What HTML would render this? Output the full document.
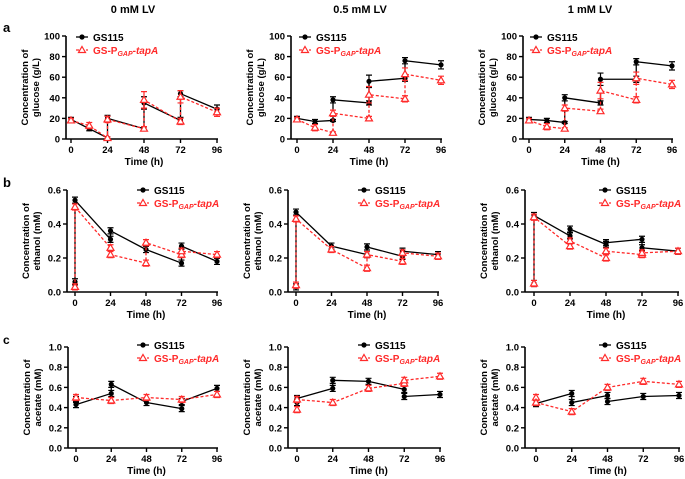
<!DOCTYPE html>
<html><head><meta charset="utf-8"><style>
html,body{margin:0;padding:0;background:#fff;}
svg{display:block;font-family:"Liberation Sans",Arial,sans-serif;font-weight:bold;}
</style></head><body>
<svg id="fig" width="685" height="479" viewBox="0 0 685 479" xmlns="http://www.w3.org/2000/svg">
<text x="133" y="13" font-size="11" text-anchor="middle">0 mM LV</text>
<text x="360" y="13" font-size="11" text-anchor="middle">0.5 mM LV</text>
<text x="590" y="13" font-size="11" text-anchor="middle">1 mM LV</text>
<text x="3" y="32" font-size="13">a</text>
<text x="3" y="187" font-size="13">b</text>
<text x="3" y="344" font-size="12">c</text>
</svg>
<script>
// ---- data ----
const timeTicks=[0,24,48,72,96];
const glucoseTicks=[0,20,40,60,80,100];
const ethanolTicks=[0.0,0.2,0.4,0.6];
const acetateTicks=[0.0,0.2,0.4,0.6,0.8,1.0];
const gluT=[0,12,24,24,48,48,72,72,96];
const glu0Black=[19,10,1,20,10,35,18,44,29];
const glu0Red=[18,13,1,19,10,38,17,41,26];
const glu05Black=[20,17,18,38,35,56,59,76,72];
const glu05Red=[19,11,6,25,20,43,39,63,57];
const glu1Black=[19,18,16,40,35,58,58,75,71];
const glu1Red=[18,12,10,30,27,47,38,59,53];
const gluErrBlack=[2,2,1,3,2,6,3,3,4];
const gluErrRed=[2,3,1,3,2,8,3,6,4];
const eth0BlackT=[0,0,24,24,48,72,72,96];
const eth0Black=[0.06,0.54,0.31,0.36,0.25,0.17,0.27,0.18];
const eth0RedT=[0,0,24,24,48,48,72,72,96];
const eth0Red=[0.03,0.50,0.26,0.22,0.17,0.29,0.22,0.24,0.22];
const eth05BlackT=[0,0,24,48,48,72,72,96];
const eth05Black=[0.03,0.47,0.27,0.22,0.265,0.21,0.24,0.22];
const eth05RedT=[0,0,24,48,48,72,72,96];
const eth05Red=[0.04,0.43,0.25,0.14,0.22,0.18,0.23,0.21];
const eth1BlackT=[0,0,24,24,48,48,72,72,96];
const eth1Black=[0.05,0.45,0.33,0.37,0.28,0.29,0.31,0.26,0.24];
const eth1RedT=[0,0,24,24,48,48,72,72,96];
const eth1Red=[0.05,0.44,0.27,0.30,0.20,0.24,0.22,0.23,0.24];
const ace0BlackT=[0,0,24,24,48,72,72,96];
const ace0Black=[0.48,0.43,0.54,0.63,0.45,0.39,0.46,0.59];
const ace0RedT=[0,24,48,72,96];
const ace0Red=[0.50,0.47,0.50,0.48,0.53];
const ace05BlackT=[0,0,24,24,48,72,72,96];
const ace05Black=[0.45,0.49,0.59,0.67,0.66,0.58,0.51,0.53];
const ace05RedT=[0,0,24,48,72,72,96];
const ace05Red=[0.38,0.48,0.45,0.59,0.64,0.67,0.71];
const ace1BlackT=[0,24,24,48,48,72,96];
const ace1Black=[0.44,0.54,0.45,0.52,0.46,0.51,0.52];
const ace1RedT=[0,0,24,48,72,96];
const ace1Red=[0.50,0.45,0.36,0.60,0.66,0.63];

const NS='http://www.w3.org/2000/svg';
const svg=document.getElementById('fig');
function mk(tag,attrs,parent){const e=document.createElementNS(NS,tag);for(const k in attrs)e.setAttribute(k,attrs[k]);(parent||svg).appendChild(e);return e;}

function panel(id,cfg){
  const g=mk('g',{});
  
  
  const xs=t=>cfg.x0+(t-0)/96*(cfg.x96-cfg.x0);
  const ys=v=>cfg.bot-(v-cfg.ymin)/(cfg.ymax-cfg.ymin)*(cfg.bot-cfg.top);
  // axes
  const ya=mk('line',{x1:cfg.ax,y1:cfg.top,x2:cfg.ax,y2:cfg.bot,stroke:'#000','stroke-width':1.6},g);
  
  
  const xa=mk('line',{x1:cfg.ax,y1:cfg.bot,x2:cfg.x96+1,y2:cfg.bot,stroke:'#000','stroke-width':1.6},g);
  
  
  cfg.yticks.forEach(v=>{
    const y=ys(v);
    mk('line',{x1:cfg.ax-4,y1:y,x2:cfg.ax,y2:y,stroke:'#000','stroke-width':1.4},g);
    const t=mk('text',{x:cfg.ax-6,y:y+3.5,'font-size':9.5,'text-anchor':'end'},g);
    t.textContent=cfg.fmt(v);
    
    
  });
  timeTicks.forEach(v=>{
    const x=xs(v);
    mk('line',{x1:x,y1:cfg.bot,x2:x,y2:cfg.bot+4,stroke:'#000','stroke-width':1.4},g);
    const t=mk('text',{x:x,y:cfg.bot+14,'font-size':9.5,'text-anchor':'middle'},g);
    t.textContent=v;
    
    
  });
  const xt=mk('text',{x:(cfg.x0+cfg.x96)/2,y:cfg.bot+26,'font-size':10,'text-anchor':'middle'},g);
  xt.textContent='Time (h)';
  
  
  const cy=(cfg.top+cfg.bot)/2;
  const yt=mk('text',{transform:`translate(${cfg.ax-38},${cy}) rotate(-90)`,'font-size':9.5,'text-anchor':'middle'},g);
  yt.textContent='Concentration of';
  
  
  const yt2=mk('text',{transform:`translate(${cfg.ax-27},${cy}) rotate(-90)`,'font-size':9.5,'text-anchor':'middle'},g);
  yt2.textContent=cfg.unit;
  
  
  // series
  function series(T,V,E,color,red){
    const pts=T.map((t,i)=>xs(t)+','+ys(V[i])).join(' ');
    T.forEach((t,i)=>{
      const e=E?E[i]:(cfg.ymax-cfg.ymin)*0.03;
      const x=xs(t);
      const eb=mk('path',{d:`M${x},${ys(V[i]-e)}V${ys(V[i]+e)}M${x-3},${ys(V[i]+e)}h6M${x-3},${ys(V[i]-e)}h6`,stroke:color,'stroke-width':1.2,fill:'none'},g);
      
      
    });
    const pl=mk('polyline',{points:pts,fill:'none',stroke:color,'stroke-width':1.3,'stroke-dasharray':red?'3,2':'none'},g);
    
    
    T.forEach((t,i)=>{
      const x=xs(t),y=ys(V[i]);
      let m;
      if(red){m=mk('path',{d:`M${x},${y-3.5}L${x+3.5},${y+2.5}L${x-3.5},${y+2.5}Z`,fill:'#fff',stroke:color,'stroke-width':1.2},g);}
      else{m=mk('circle',{cx:x,cy:y,r:2.6,fill:color},g);}
      
      
    });
  }
  series(cfg.bT,cfg.bV,cfg.bE,'#000',false);
  series(cfg.rT,cfg.rV,cfg.rE,'#ff2a2a',true);
  // legend
  const lx=cfg.lx, ly=cfg.ly;
  const l1=mk('g',{},g);
  
  
  mk('line',{x1:lx-6,y1:ly,x2:lx+6,y2:ly,stroke:'#000','stroke-width':1.3},l1);
  mk('circle',{cx:lx,cy:ly,r:2.6,fill:'#000'},l1);
  const t1=mk('text',{x:lx+11,y:ly+4,'font-size':10},l1);t1.textContent='GS115';
  const l2=mk('g',{},g);
  
  
  const y2=ly+13;
  mk('line',{x1:lx-6,y1:y2,x2:lx+6,y2:y2,stroke:'#ff2a2a','stroke-width':1.3,'stroke-dasharray':'3,2'},l2);
  mk('path',{d:`M${lx},${y2-3.5}L${lx+3.5},${y2+2.5}L${lx-3.5},${y2+2.5}Z`,fill:'#fff',stroke:'#ff2a2a','stroke-width':1.2},l2);
  const t2=mk('text',{x:lx+11,y:y2+4,'font-size':10,fill:'#ff2a2a'},l2);
  t2.innerHTML='GS-P<tspan font-size="7" font-style="italic" dy="2">GAP</tspan><tspan dy="-2">-</tspan><tspan font-style="italic">tapA</tspan>';
}
const fmtInt=v=>String(v), fmt1=v=>v.toFixed(1);
const A={top:36,bot:139,ymin:0,ymax:100,yticks:glucoseTicks,fmt:fmtInt,unit:'glucose (g/L)'};
const B={top:190,bot:292,ymin:0,ymax:0.6,yticks:ethanolTicks,fmt:fmt1,unit:'ethanol (mM)'};
const C={top:347,bot:448,ymin:0,ymax:1.0,yticks:acetateTicks,fmt:fmt1,unit:'acetate (mM)'};
panel('glucose-0mm',Object.assign({},A,{ax:66,x0:71,x96:217,lx:82,ly:37,bT:gluT,bV:glu0Black,bE:gluErrBlack,rT:gluT,rV:glu0Red,rE:gluErrRed}));
panel('glucose-05mm',Object.assign({},A,{ax:291,x0:297,x96:441,lx:305,ly:37,bT:gluT,bV:glu05Black,bE:gluErrBlack,rT:gluT,rV:glu05Red,rE:gluErrRed}));
panel('glucose-1mm',Object.assign({},A,{ax:523,x0:529,x96:672,lx:536,ly:37,bT:gluT,bV:glu1Black,bE:gluErrBlack,rT:gluT,rV:glu1Red,rE:gluErrRed}));
panel('ethanol-0mm',Object.assign({},B,{ax:67,x0:75,x96:217,lx:143,ly:190,bT:eth0BlackT,bV:eth0Black,rT:eth0RedT,rV:eth0Red}));
panel('ethanol-05mm',Object.assign({},B,{ax:288,x0:296,x96:438,lx:364,ly:190,bT:eth05BlackT,bV:eth05Black,rT:eth05RedT,rV:eth05Red}));
panel('ethanol-1mm',Object.assign({},B,{ax:525,x0:534,x96:678,lx:605,ly:190,bT:eth1BlackT,bV:eth1Black,rT:eth1RedT,rV:eth1Red}));
panel('acetate-0mm',Object.assign({},C,{ax:68,x0:76,x96:217,lx:143,ly:345,bT:ace0BlackT,bV:ace0Black,rT:ace0RedT,rV:ace0Red}));
panel('acetate-05mm',Object.assign({},C,{ax:288,x0:297,x96:440,lx:364,ly:345,bT:ace05BlackT,bV:ace05Black,rT:ace05RedT,rV:ace05Red}));
panel('acetate-1mm',Object.assign({},C,{ax:525,x0:536,x96:679,lx:605,ly:345,bT:ace1BlackT,bV:ace1Black,rT:ace1RedT,rV:ace1Red}));
</script>
</body></html>
